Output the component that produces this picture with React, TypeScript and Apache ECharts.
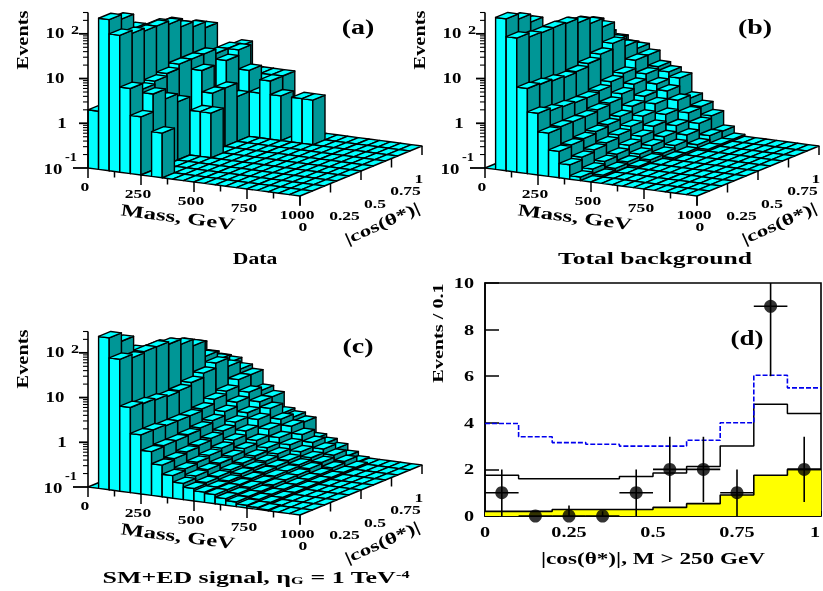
import React, { useEffect, useRef } from "react";
import * as echarts from "echarts";

const FONT = "'Liberation Serif','Times New Roman',serif";
const CYAN = "#00ffff";
const TEAL = "#009696";
const FLOOR = 0.1;
const MASS_BIN = 50;
const COS_BIN = 0.1;

// rows are |cos| bins 0.0-0.1 ... 0.9-1.0, entries are 50 GeV mass bins (missing = empty)
const dataRows = [
  [2, 240, 115, 8, 2, 0, 1],
  [0, 190, 98, 6, 5],
  [0, 91, 85, 7, 3],
  [0, 65, 85, 8, 2],
  [0, 65, 72, 10, 0, 1, 1],
  [0, 54, 49, 10, 6, 2],
  [0, 35, 38, 10, 0, 2],
  [0, 28, 28, 8, 6, 1],
  [0, 5, 5, 8, 8, 3, 1, 2, 1, 0, 1, 1],
  [0, 3, 4, 7, 2, 2, 2, 2],
];
const backgroundRows = [
  [0.1, 250, 100, 8, 2.4, 0.93, 0.39, 0.21, 0.12, 0.1],
  [0.1, 190, 81, 7.6, 2.1, 1, 0.42, 0.24, 0.14, 0.11, 0.1],
  [0.1, 126, 78, 7, 2, 1, 0.45, 0.27, 0.16, 0.12, 0.1],
  [0.1, 56, 79, 6.5, 1.9, 1, 0.5, 0.3, 0.18, 0.13, 0.11, 0.1],
  [0.1, 57, 75, 6.8, 1.9, 1.1, 0.55, 0.35, 0.22, 0.15, 0.12, 0.1],
  [0.1, 54, 60, 8, 2.1, 1.2, 0.65, 0.42, 0.27, 0.18, 0.13, 0.11, 0.1],
  [0.1, 44, 45, 10, 2.6, 1.5, 0.85, 0.55, 0.35, 0.22, 0.15, 0.11, 0.1],
  [0.1, 33, 29, 13.5, 3.1, 1.9, 1.1, 0.8, 0.5, 0.3, 0.2, 0.13, 0.11, 0.1],
  [0.1, 14, 11, 9, 4.7, 2.5, 1.6, 1.2, 0.8, 0.45, 0.28, 0.16, 0.11, 0.1],
  [0.1, 8.3, 6.5, 6.2, 4.7, 2.8, 2.3, 1.8, 0.69, 0.48, 0.32, 0.155, 0.11, 0.1],
];
const signalRows = [
  [0.1, 250, 89, 8, 2.1, 0.95, 0.51, 0.32, 0.23, 0.19, 0.17, 0.16, 0.14, 0.127, 0.115, 0.11, 0.105, 0.1],
  [0.1, 162, 74, 7.5, 2.1, 1, 0.55, 0.35, 0.26, 0.2, 0.17, 0.16, 0.14, 0.13, 0.12, 0.11, 0.1],
  [0.1, 74, 79, 7, 2, 1, 0.6, 0.38, 0.28, 0.21, 0.18, 0.16, 0.15, 0.13, 0.12, 0.11],
  [0.1, 58, 78, 6.5, 2, 1.05, 0.65, 0.42, 0.3, 0.23, 0.2, 0.17, 0.15, 0.14, 0.12, 0.11],
  [0.1, 58, 69, 6.8, 2, 1.15, 0.72, 0.47, 0.33, 0.25, 0.21, 0.18, 0.16, 0.14, 0.12, 0.11],
  [0.1, 49, 53, 8, 2.2, 1.3, 0.82, 0.55, 0.38, 0.28, 0.23, 0.19, 0.16, 0.14, 0.12, 0.11],
  [0.1, 38, 38, 10, 2.8, 1.6, 1, 0.68, 0.45, 0.33, 0.26, 0.2, 0.17, 0.15, 0.12, 0.11],
  [0.1, 27, 17, 13, 3.3, 2, 1.25, 0.95, 0.62, 0.43, 0.32, 0.24, 0.19, 0.16, 0.13, 0.11],
  [0.1, 12.5, 11, 8.5, 4.6, 2.6, 1.7, 1.3, 0.8, 0.6, 0.42, 0.3, 0.23, 0.18, 0.14, 0.11],
  [0.1, 8, 7.5, 5.7, 4.6, 2.2, 1.7, 0.79, 0.69, 0.57, 0.26, 0.22, 0.18, 0.13, 0.105, 0.1],
];

const zMajor = [0.1, 1, 10, 100];
const zMinor = [0.2, 0.3, 0.4, 0.5, 0.6, 0.7, 0.8, 0.9, 2, 3, 4, 5, 6, 7, 8, 9, 20, 30, 40, 50, 60, 70, 80, 90, 200, 300];
const massMajor = [0, 250, 500, 750, 1000];
const massMinor = [125, 375, 625, 875];
const massLabels = ["0", "250", "500", "750", "1000"];
const cosTicks = [0, 0.25, 0.5, 0.75, 1];
const cosLabels = ["0", "0.25", "0.5", "0.75", "1"];

// panel (d)
const binEdges = [0, 0.1, 0.2, 0.3, 0.4, 0.5, 0.6, 0.7, 0.8, 0.9];
const blueBins = [3.97, 3.4, 3.15, 3.08, 3.0, 3.0, 3.25, 4.0, 6.04, 5.5];
const blackBins = [1.75, 1.6, 1.6, 1.6, 1.7, 1.85, 2.12, 3.0, 4.8, 4.4];
const yellowBins = [0.2, 0.2, 0.28, 0.28, 0.28, 0.37, 0.53, 0.9, 1.75, 2.0];
const pointX = [0.05, 0.15, 0.25, 0.35, 0.45, 0.55, 0.65, 0.75, 0.85, 0.95];
const pointY = [1, 0, 0, 0, 1, 2, 2, 1, 9, 2];
const errLow = [0, 0, 0, 0, 0, 0.6, 0.6, 0, 6, 0.6];
const errHigh = [2, 0, 0.45, 0.2, 2, 3.4, 3.4, 2, 10, 3.4];
const dYTicks = [0, 2, 4, 6, 8, 10];
const dXTicks = [0, 0.25, 0.5, 0.75, 1];
const dXLabels = ["0", "0.25", "0.5", "0.75", "1"];

const MASS_SKEW = 28;
const DEPTH_X = 122;
const DEPTH_Y = 50;
const GRID_W = 212;
const GRID_H = 155.5;

function txt(x: number, y: number, text: string, size: number, opts: any = {}) {
  return {
    type: "text",
    x,
    y,
    rotation: opts.rotation || 0,
    scaleX: opts.scaleX ?? 1.35,
    scaleY: 1,
    style: {
      text,
      fontSize: size,
      fontFamily: FONT,
      fontWeight: "bold",
      fill: "#000",
      align: opts.align || "center",
      verticalAlign: "middle",
      rich: opts.rich,
    },
  };
}
function seg(x1: number, y1: number, x2: number, y2: number, w = 1.5) {
  return { type: "line", shape: { x1, y1, x2, y2 }, style: { stroke: "#000", lineWidth: w, fill: "none" } };
}

function project(api: any, m: number, c: number, v: number) {
  const p = api.coord([m, v]);
  return [p[0] + c * DEPTH_X, p[1] + (m / 1000) * MASS_SKEW - c * DEPTH_Y];
}

function legoSeries(rows: number[][], idx: number) {
  const data: number[][] = [];
  for (let j = 9; j >= 0; j--) {
    for (let i = 0; i < 20; i++) {
      data.push([i * MASS_BIN, j * COS_BIN, Math.max(rows[j][i] ?? 0, FLOOR)]);
    }
  }
  return {
    type: "custom",
    coordinateSystem: "cartesian2d",
    xAxisIndex: idx,
    yAxisIndex: idx,
    silent: true,
    z: 2,
    encode: { x: 0, y: 2 },
    data,
    renderItem: (_: any, api: any) => {
      const m = api.value(0);
      const c = api.value(1);
      const v = api.value(2);
      const m2 = m + MASS_BIN;
      const c2 = c + COS_BIN;
      const a = project(api, m, c, v);
      const b = project(api, m2, c, v);
      const d = project(api, m2, c2, v);
      const e = project(api, m, c2, v);
      const st = (fill: string) => ({ fill, stroke: "#000", lineWidth: 1.4, lineJoin: "round" });
      const children: any[] = [];
      if (v > FLOOR) {
        const a0 = project(api, m, c, FLOOR);
        const b0 = project(api, m2, c, FLOOR);
        const d0 = project(api, m2, c2, FLOOR);
        children.push({ type: "polygon", shape: { points: [a, b, b0, a0] }, style: st(CYAN) });
        children.push({ type: "polygon", shape: { points: [b, d, d0, b0] }, style: st(TEAL) });
      }
      children.push({ type: "polygon", shape: { points: [a, b, d, e] }, style: st(CYAN) });
      return { type: "group", children };
    },
  };
}

function legoFrame(idx: number, caption: any, letter: string) {
  return {
    type: "custom",
    coordinateSystem: "cartesian2d",
    xAxisIndex: idx,
    yAxisIndex: idx,
    silent: true,
    z: 3,
    encode: { x: 0, y: 1 },
    data: [[500, 1]],
    renderItem: (_: any, api: any) => {
      const c: any[] = [];
      const org = api.coord([0, FLOOR]);
      const ox = org[0];
      const oy = org[1];
      const top = api.coord([0, 300])[1];
      c.push(seg(ox, oy, ox, top, 1.6));
      zMajor.forEach((z) => {
        const y = api.coord([0, z])[1];
        c.push(seg(ox - (z === FLOOR ? 15 : 9), y, ox, y, 1.8));
      });
      zMinor.forEach((z) => {
        const y = api.coord([0, z])[1];
        c.push(seg(ox - 5, y, ox, y, 1.1));
      });
      const yOf = (z: number) => api.coord([0, z])[1];
      c.push(txt(ox - 35, yOf(0.1) + 1, "10", 14));
      c.push(txt(ox - 17, yOf(0.1) - 11, "-1", 12, { scaleX: 1.2 }));
      c.push(txt(ox - 26, yOf(1), "1", 14));
      c.push(txt(ox - 33, yOf(10), "10", 14));
      c.push(txt(ox - 33, yOf(100), "10", 14));
      c.push(txt(ox - 13, yOf(100) - 4, "2", 12));
      c.push(txt(ox - 66, oy - 128, "Events", 17, { rotation: Math.PI / 2, scaleX: 1.2 }));
      massMajor.forEach((m, k) => {
        const p = project(api, m, 0, FLOOR);
        c.push(seg(p[0], p[1], p[0], p[1] + 10));
        c.push(txt(p[0] - 3, p[1] + 18.5, massLabels[k], 13));
      });
      massMinor.forEach((m) => {
        const p = project(api, m, 0, FLOOR);
        c.push(seg(p[0], p[1], p[0], p[1] + 6));
      });
      cosTicks.forEach((t, k) => {
        const p = project(api, 1000, t, FLOOR);
        c.push(seg(p[0], p[1], p[0], p[1] + 9));
        const dx = k === 0 ? 3 : k === 4 ? -3 : 14;
        const dy = k === 0 ? 30 : 32;
        c.push(txt(p[0] + dx, p[1] + dy, cosLabels[k], 13));
      });
      c.push(txt(ox + 90, oy + 49, "Mass, GeV", 17, { rotation: -0.13, scaleX: 1.45 }));
      c.push(txt(ox + 294, oy + 55, "|cos(θ*)|", 16, { rotation: 0.42, scaleX: 1.45 }));
      c.push(txt(ox + caption.dx, oy + 91, caption.text, 16, { scaleX: caption.scaleX, rich: caption.rich }));
      c.push(txt(ox + 270, oy - 141, letter, 20, { scaleX: 1.4 }));
      return { type: "group", children: c };
    },
  };
}

function stepData(bins: number[]) {
  const pts = binEdges.map((e, k) => [e, bins[k]]);
  pts.push([1, bins[bins.length - 1]]);
  return pts;
}

function token(size: number, extra: any = {}) {
  return { fontSize: size, fontFamily: FONT, fontWeight: "bold", fill: "#000", ...extra };
}

function buildOption() {
  const panels = [
    { left: 88, top: 168 - GRID_H },
    { left: 485, top: 168 - GRID_H },
    { left: 88, top: 487 - GRID_H },
  ];
  const grids: any[] = panels.map((p) => ({ left: p.left, top: p.top, width: GRID_W, height: GRID_H, show: false }));
  grids.push({ left: 485, top: 283, width: 336, height: 233, show: true, borderColor: "#000", borderWidth: 1.6, backgroundColor: "transparent" });

  const xAxis: any[] = panels.map((_, k) => ({ type: "value", gridIndex: k, min: 0, max: 1000, show: false }));
  const yAxis: any[] = panels.map((_, k) => ({ type: "log", logBase: 10, gridIndex: k, min: FLOOR, max: 300, show: false }));
  xAxis.push({
    type: "value", gridIndex: 3, min: 0, max: 1, interval: 0.125,
    axisLine: { lineStyle: { color: "#000", width: 1.6 } },
    axisTick: { inside: true, length: 5, lineStyle: { color: "#000", width: 1.5 } },
    axisLabel: { show: false }, splitLine: { show: false },
  });
  yAxis.push({
    type: "value", gridIndex: 3, min: 0, max: 10, interval: 2,
    axisLine: { lineStyle: { color: "#000", width: 1.6 } },
    axisTick: { inside: true, length: 14, lineStyle: { color: "#000", width: 1.5 } },
    axisLabel: { show: false }, splitLine: { show: false },
  });

  const series: any[] = [
    legoSeries(dataRows, 0),
    legoFrame(0, { dx: 167, text: "Data", scaleX: 1.35 }, "(a)"),
    legoSeries(backgroundRows, 1),
    legoFrame(1, { dx: 170, text: "Total background", scaleX: 1.6 }, "(b)"),
    legoSeries(signalRows, 2),
    legoFrame(2, {
      dx: 168,
      text: "{a|SM+ED signal, η}{s|G}{a| = 1 TeV}{u|-4}",
      scaleX: 1.62,
      rich: { a: token(16), s: token(10, { verticalAlign: "bottom" }), u: token(10, { verticalAlign: "top" }) },
    }, "(c)"),
    {
      type: "line", xAxisIndex: 3, yAxisIndex: 3, step: "end", symbol: "none", silent: true, z: 2,
      data: stepData(yellowBins),
      lineStyle: { color: "#000", width: 1.6 }, areaStyle: { color: "#ffff00", opacity: 1 },
    },
    {
      type: "line", xAxisIndex: 3, yAxisIndex: 3, step: "end", symbol: "none", silent: true, z: 3,
      data: stepData(blackBins), lineStyle: { color: "#000", width: 1.5 },
    },
    {
      type: "line", xAxisIndex: 3, yAxisIndex: 3, step: "end", symbol: "none", silent: true, z: 3,
      data: stepData(blueBins), lineStyle: { color: "#0000ee", width: 1.6, type: [5, 2] },
    },
    {
      type: "custom", coordinateSystem: "cartesian2d", xAxisIndex: 3, yAxisIndex: 3, silent: true, z: 4,
      encode: { x: 0, y: 1 },
      data: pointX.map((x, k) => [x, pointY[k], errLow[k], errHigh[k]]),
      renderItem: (_: any, api: any) => {
        const x = api.value(0);
        const y = api.value(1);
        const lo = api.coord([x, api.value(2)]);
        const hi = api.coord([x, api.value(3)]);
        const l = api.coord([x - 0.05, y]);
        const r = api.coord([x + 0.05, y]);
        return { type: "group", children: [seg(lo[0], lo[1], hi[0], hi[1], 1.6), seg(l[0], l[1], r[0], r[1], 1.6)] };
      },
    },
    {
      type: "scatter", xAxisIndex: 3, yAxisIndex: 3, silent: true, z: 5, symbol: "circle", symbolSize: 13, clip: true,
      itemStyle: { color: "#000" }, data: pointX.map((x, k) => [x, pointY[k]]),
    },
    {
      type: "custom", coordinateSystem: "cartesian2d", xAxisIndex: 3, yAxisIndex: 3, silent: true, z: 6,
      encode: { x: 0, y: 1 },
      data: [[0.5, 5]],
      renderItem: (_: any, api: any) => {
        const c: any[] = [];
        dYTicks.forEach((t) => {
          const p = api.coord([0, t]);
          c.push(txt(p[0] - 11, p[1], String(t), 15, { align: "right" }));
        });
        dXTicks.forEach((t, k) => {
          const p = api.coord([t, 0]);
          c.push(txt(k === 4 ? p[0] - 6 : p[0], p[1] + 16, dXLabels[k], 15));
        });
        c.push(txt(653, 558, "|cos(θ*)|, M > 250 GeV", 16, { scaleX: 1.45 }));
        c.push(txt(438, 333, "Events / 0.1", 15, { rotation: Math.PI / 2, scaleX: 1.35 }));
        c.push(txt(747, 338, "(d)", 20, { scaleX: 1.35 }));
        return { type: "group", children: c };
      },
    },
  ];

  return { animation: false, backgroundColor: "#fff", grid: grids, xAxis, yAxis, series };
}

export default function App() {
  const ref = useRef<HTMLDivElement>(null);
  useEffect(() => {
    const chart = echarts.init(ref.current!, undefined, { renderer: "svg" });
    chart.setOption(buildOption() as any);
    return () => chart.dispose();
  }, []);
  return (
    <div
      ref={ref}
      style={{ position: "fixed", left: 0, top: 0, width: 823, height: 591, filter: "blur(0.5px)" }}
    />
  );
}
